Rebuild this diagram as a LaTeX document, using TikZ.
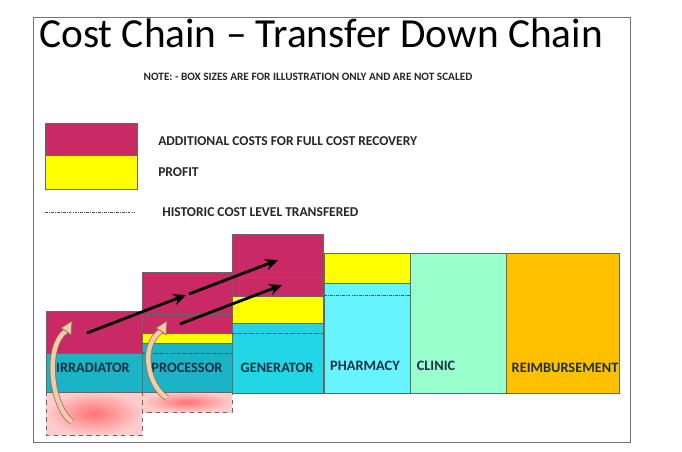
\documentclass[tikz,border=0pt]{standalone}
\usepackage{fontspec}
\setmainfont{Carlito}
\usetikzlibrary{arrows.meta}
\definecolor{costmagenta}{HTML}{C92A66}
\definecolor{profityellow}{HTML}{FFFF00}
\definecolor{irrteal}{HTML}{1BB3C6}
\definecolor{gencyan}{HTML}{22D6E6}
\definecolor{pharmcyan}{HTML}{66F4FF}
\definecolor{clinicmint}{HTML}{99FFCC}
\definecolor{reimbamber}{HTML}{FFC000}
\definecolor{labelnavy}{HTML}{1B3044}
\definecolor{tanarrow}{HTML}{F2CBA8}
\definecolor{brownedge}{HTML}{8A6A50}

\tikzset{
  boxedge/.style={draw=black!60, line width=0.4pt},
  historic/.style={draw=black!70, line width=0.4pt, dash pattern=on 2pt off 0.8pt on 0.6pt off 0.8pt},
  stagelabel/.style={font=\fontsize{10.2}{12}\selectfont\bfseries, text=labelnavy, inner sep=0pt},
  legendlabel/.style={font=\fontsize{9.6}{11}\selectfont\bfseries, text=black!85, anchor=west, inner sep=0pt},
  pushline/.style={line width=2pt, -{Stealth[length=9pt,width=8pt]}},
  liftarrow/.style={draw=brownedge, double=tanarrow, double distance=3.2pt, line width=0.5pt},
  pinkbase/.style={inner color=red!55, outer color=red!20},
}

\begin{document}
\begin{tikzpicture}[x=0.025cm,y=-0.025cm] %1 unit = 1 pixel of the slide
\useasboundingbox (0,0) rectangle (682,452);
\fill[white] (0,0) rectangle (682,452);
\draw[black!55, line width=0.6pt] (33,17) rectangle (630,442); %slide frame

%Title and note
\node[anchor=base west, inner sep=0pt, font=\fontsize{29.4}{32}\selectfont] (title) at (39,48) {Cost Chain – Transfer Down Chain};
\node[inner sep=0pt, font=\fontsize{8}{9}\selectfont\bfseries, text=black!85] (note) at (308,77) {NOTE: - BOX SIZES ARE FOR ILLUSTRATION ONLY AND ARE NOT SCALED};

%Legend
\filldraw[fill=costmagenta, boxedge] (45,123) rectangle (137,155); %Additional costs
\filldraw[fill=profityellow, boxedge] (45,155) rectangle (137,189); %Profit
\draw[historic] (45,212) -- (135,212); %Historic level
\node[legendlabel] (addlabel) at (158,141) {ADDITIONAL COSTS FOR FULL COST RECOVERY};
\node[legendlabel] (profitlabel) at (158,172) {PROFIT};
\node[legendlabel] (historiclabel) at (162,212) {HISTORIC COST LEVEL TRANSFERED};

%Irradiator
\shade[pinkbase] (46,392) rectangle (142,435);
\draw[black!60, dashed, line width=0.6pt] (46,392) rectangle (142,435);
\filldraw[fill=costmagenta, boxedge] (46,311) rectangle (142,353);
\filldraw[fill=irrteal, boxedge] (46,353) rectangle (142,392);

%Processor
\shade[pinkbase] (142,392) rectangle (232,412);
\draw[black!60, dashed, line width=0.6pt] (142,392) rectangle (232,412);
\filldraw[fill=costmagenta, boxedge] (142,272) rectangle (232,333);
\draw[boxedge] (142,314) -- (232,314);
\filldraw[fill=profityellow, boxedge] (142,333) rectangle (232,343);
\filldraw[fill=irrteal, boxedge] (142,343) rectangle (232,392);
\draw[historic] (142,353) -- (232,353);

%Generator
\filldraw[fill=costmagenta, boxedge] (232,234) rectangle (323,296);
\draw[boxedge] (232,277) -- (323,277);
\filldraw[fill=profityellow, boxedge] (232,296) rectangle (323,323);
\filldraw[fill=gencyan, boxedge] (232,323) rectangle (323,393);
\draw[historic] (232,333) -- (323,333);

%Pharmacy
\filldraw[fill=profityellow, boxedge] (324,253) rectangle (410,283);
\filldraw[fill=pharmcyan, boxedge] (324,283) rectangle (410,393);
\draw[historic] (324,295) -- (410,295);

%Clinic and reimbursement
\filldraw[fill=clinicmint, boxedge] (410,253) rectangle (506,393);
\filldraw[fill=reimbamber, boxedge] (506,253) rectangle (619,393);

%Stage labels
\node[stagelabel] (irradiator) at (93,368) {IRRADIATOR};
\node[stagelabel] (processor) at (187,368) {PROCESSOR};
\node[stagelabel] (generator) at (277,368) {GENERATOR};
\node[stagelabel] (pharmacy) at (365,366) {PHARMACY};
\node[stagelabel] (clinic) at (436,366) {CLINIC};
\node[stagelabel] (reimbursement) at (565,368) {REIMBURSEMENT};

%Costs pushed down the chain
\coordinate (irrcost) at (87,333);
\coordinate (proccostin) at (186,295);
\coordinate (proccostout) at (189,294);
\coordinate (gencostin) at (278,260);
\coordinate (procprofit) at (180,324);
\coordinate (genprofit) at (282,285);
\draw[pushline] (irrcost) -- (proccostin);
\draw[pushline] (proccostout) -- (gencostin);
\draw[pushline] (procprofit) -- (genprofit);

%Base costs lifted up
\coordinate (irrbase) at (72,422);
\coordinate (irrlift) at (66,331);
\draw[liftarrow] (irrbase) .. controls (50,405) and (45,345) .. (irrlift);
\filldraw[fill=tanarrow, draw=brownedge, line width=0.5pt] (72,321) -- (61,328) -- (66,331) -- (71,335) -- cycle;
\coordinate (procbase) at (167,398);
\coordinate (proclift) at (161,331);
\draw[liftarrow] (procbase) .. controls (147,385) and (140,345) .. (proclift);
\filldraw[fill=tanarrow, draw=brownedge, line width=0.5pt] (167,321) -- (156,328) -- (161,331) -- (166,335) -- cycle;
\end{tikzpicture}
\end{document}
